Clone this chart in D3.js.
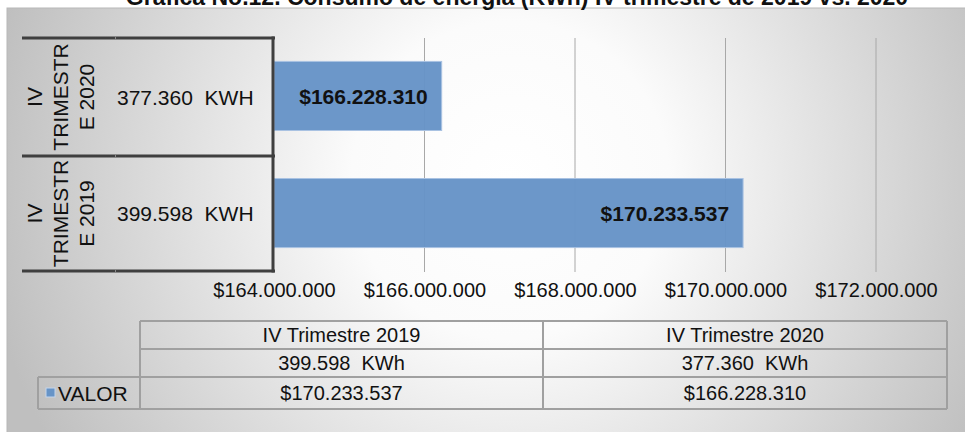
<!DOCTYPE html>
<html><head><meta charset="utf-8">
<script src="https://cdn.jsdelivr.net/npm/d3@7"></script>
<style>
html,body{margin:0;padding:0;background:#fff;}
svg{display:block;font-family:"Liberation Sans",Arial,sans-serif;}
text{white-space:pre;}
</style></head><body>
<svg id="chart" width="965" height="432"></svg>
<script>
const title = "Gráfica No.12. Consumo de energía (KWh) IV trimestre de 2019 vs. 2020";
const categories = ["IV TRIMESTRE 2020", "IV TRIMESTRE 2019"];
const categoryLines = [["IV", "TRIMESTR", "E 2020"], ["IV", "TRIMESTR", "E 2019"]];
const kwhLabels = ["377.360  KWH", "399.598  KWH"];
const values = [166228310, 170233537];
const xTicks = [164000000, 166000000, 168000000, 170000000, 172000000];
const seriesName = "VALOR";
const tableHeaders = ["IV Trimestre 2019", "IV Trimestre 2020"];
const tableKwh = ["399.598  KWh", "377.360  KWh"];
const tableValues = [170233537, 166228310];

const loc = d3.formatLocale({decimal: ",", thousands: ".", grouping: [3], currency: ["$", ""]});
const fmt = loc.format("$,.0f");

const svg = d3.select("#chart");
const defs = svg.append("defs");
const grad = defs.append("radialGradient").attr("id", "bg")
  .attr("gradientUnits", "userSpaceOnUse")
  .attr("cx", 510).attr("cy", 180).attr("r", 530);
grad.append("stop").attr("offset", "0").attr("stop-color", "#ffffff");
grad.append("stop").attr("offset", "0.3").attr("stop-color", "#fbfbfb");
grad.append("stop").attr("offset", "1").attr("stop-color", "#bfbfbf");

svg.append("rect").attr("x", 7).attr("y", 8).attr("width", 965).attr("height", 430)
  .attr("fill", "url(#bg)").attr("stroke", "#b8b8b8").attr("stroke-width", 1);

svg.append("text").attr("x", 517).attr("y", 5).attr("text-anchor", "middle")
  .attr("font-weight", "bold").attr("font-size", 23).attr("fill", "#111").text(title);

const x = d3.scaleLinear().domain([164000000, 172000000]).range([274, 876]);
const y = d3.scaleBand().domain(categories).range([38, 271]).paddingInner(0.41).paddingOuter(0.2);

// gridlines
svg.append("g").selectAll("line").data(xTicks.slice(1)).join("line")
  .attr("x1", d => x(d)).attr("x2", d => x(d)).attr("y1", 38).attr("y2", 272)
  .attr("stroke", "#a8a8a8").attr("stroke-width", 1);

// bars
svg.append("g").selectAll("rect").data(values).join("rect")
  .attr("x", x(164000000)).attr("y", (d, i) => y(categories[i]))
  .attr("width", d => x(d) - x(164000000)).attr("height", y.bandwidth())
  .attr("fill", "#6794c7").attr("fill-opacity", 0.97).attr("stroke", "#a9c2e2").attr("stroke-width", 1);

// bar labels
svg.append("g").selectAll("text").data(values).join("text")
  .attr("x", d => x(d) - 14).attr("y", (d, i) => y(categories[i]) + y.bandwidth() / 2)
  .attr("dy", "0.36em").attr("text-anchor", "end").attr("font-weight", "bold")
  .attr("font-size", 21).attr("fill", "#111").text(d => fmt(d));

// x axis tick labels
const xAxis = d3.axisBottom(x).tickValues(xTicks).tickFormat(fmt).tickSize(0).tickPadding(0);
const gx = svg.append("g").attr("transform", "translate(0,291)").call(xAxis);
gx.select(".domain").remove();
gx.selectAll("text").attr("font-size", 20).attr("fill", "#111")
  .attr("font-family", "'Liberation Sans',Arial,sans-serif").attr("dy", "0.3em");

// left multi-level category table
const lg = svg.append("g");
const bandEdges = [38, 156, 271];
lg.selectAll("line.h").data(bandEdges).join("line").attr("class", "h")
  .attr("x1", 22).attr("x2", 275).attr("y1", d => d).attr("y2", d => d)
  .attr("stroke", "#3f3f3f").attr("stroke-width", 3);
lg.append("line").attr("x1", 273).attr("x2", 273).attr("y1", 36.5).attr("y2", 272.5)
  .attr("stroke", "#3f3f3f").attr("stroke-width", 3);
lg.selectAll("line.s").data(bandEdges).join("line").attr("class", "s")
  .attr("x1", 115).attr("x2", 116).attr("y1", d => d).attr("y2", d => d)
  .attr("stroke", "#8a8a8a").attr("stroke-width", 3);

const lineX = [34, 60, 86];
categories.forEach((c, i) => {
  const cy = (bandEdges[i] + bandEdges[i + 1]) / 2;
  categoryLines[i].forEach((t, j) => {
    lg.append("text").attr("transform", `translate(${lineX[j]},${cy}) rotate(-90)`)
      .attr("text-anchor", "middle").attr("dy", "0.36em").attr("font-size", 21)
      .attr("fill", "#111").text(t);
  });
  lg.append("text").attr("x", 117).attr("y", cy).attr("dy", "0.36em")
    .attr("font-size", 21).attr("fill", "#111").text(kwhLabels[i]);
});

// data table
const tg = svg.append("g");
const colX = [38, 140, 543, 947];
const rowY = [321, 349, 377, 409];
const tStroke = "#a0a0a0";
tg.append("line").attr("x1", colX[1]).attr("x2", colX[3]).attr("y1", rowY[0]).attr("y2", rowY[0]).attr("stroke", tStroke).attr("stroke-width", 2);
tg.append("line").attr("x1", colX[1]).attr("x2", colX[3]).attr("y1", rowY[1]).attr("y2", rowY[1]).attr("stroke", tStroke).attr("stroke-width", 2);
tg.append("line").attr("x1", colX[0]).attr("x2", colX[3]).attr("y1", rowY[2]).attr("y2", rowY[2]).attr("stroke", tStroke).attr("stroke-width", 2);
tg.append("line").attr("x1", colX[0]).attr("x2", colX[3]).attr("y1", rowY[3]).attr("y2", rowY[3]).attr("stroke", tStroke).attr("stroke-width", 2);
tg.append("line").attr("x1", colX[0]).attr("x2", colX[0]).attr("y1", rowY[2]).attr("y2", rowY[3]).attr("stroke", tStroke).attr("stroke-width", 2);
[1, 2, 3].forEach(k => {
  tg.append("line").attr("x1", colX[k]).attr("x2", colX[k]).attr("y1", rowY[0]).attr("y2", rowY[3]).attr("stroke", tStroke).attr("stroke-width", 2);
});
const rowsText = [tableHeaders, tableKwh, tableValues.map(fmt)];
rowsText.forEach((row, r) => {
  row.forEach((t, c) => {
    tg.append("text").attr("x", (colX[c + 1] + colX[c + 2]) / 2).attr("y", (rowY[r] + rowY[r + 1]) / 2)
      .attr("dy", "0.36em").attr("text-anchor", "middle").attr("font-size", 20)
      .attr("fill", "#111").text(t);
  });
});
tg.append("rect").attr("x", 46).attr("y", 388).attr("width", 9).attr("height", 9)
  .attr("fill", "#6794c7").attr("stroke", "#c5d6ec").attr("stroke-width", 1);
tg.append("text").attr("x", 58).attr("y", (rowY[2] + rowY[3]) / 2).attr("dy", "0.36em")
  .attr("font-size", 21).attr("fill", "#111").text(seriesName);
</script>
</body></html>
